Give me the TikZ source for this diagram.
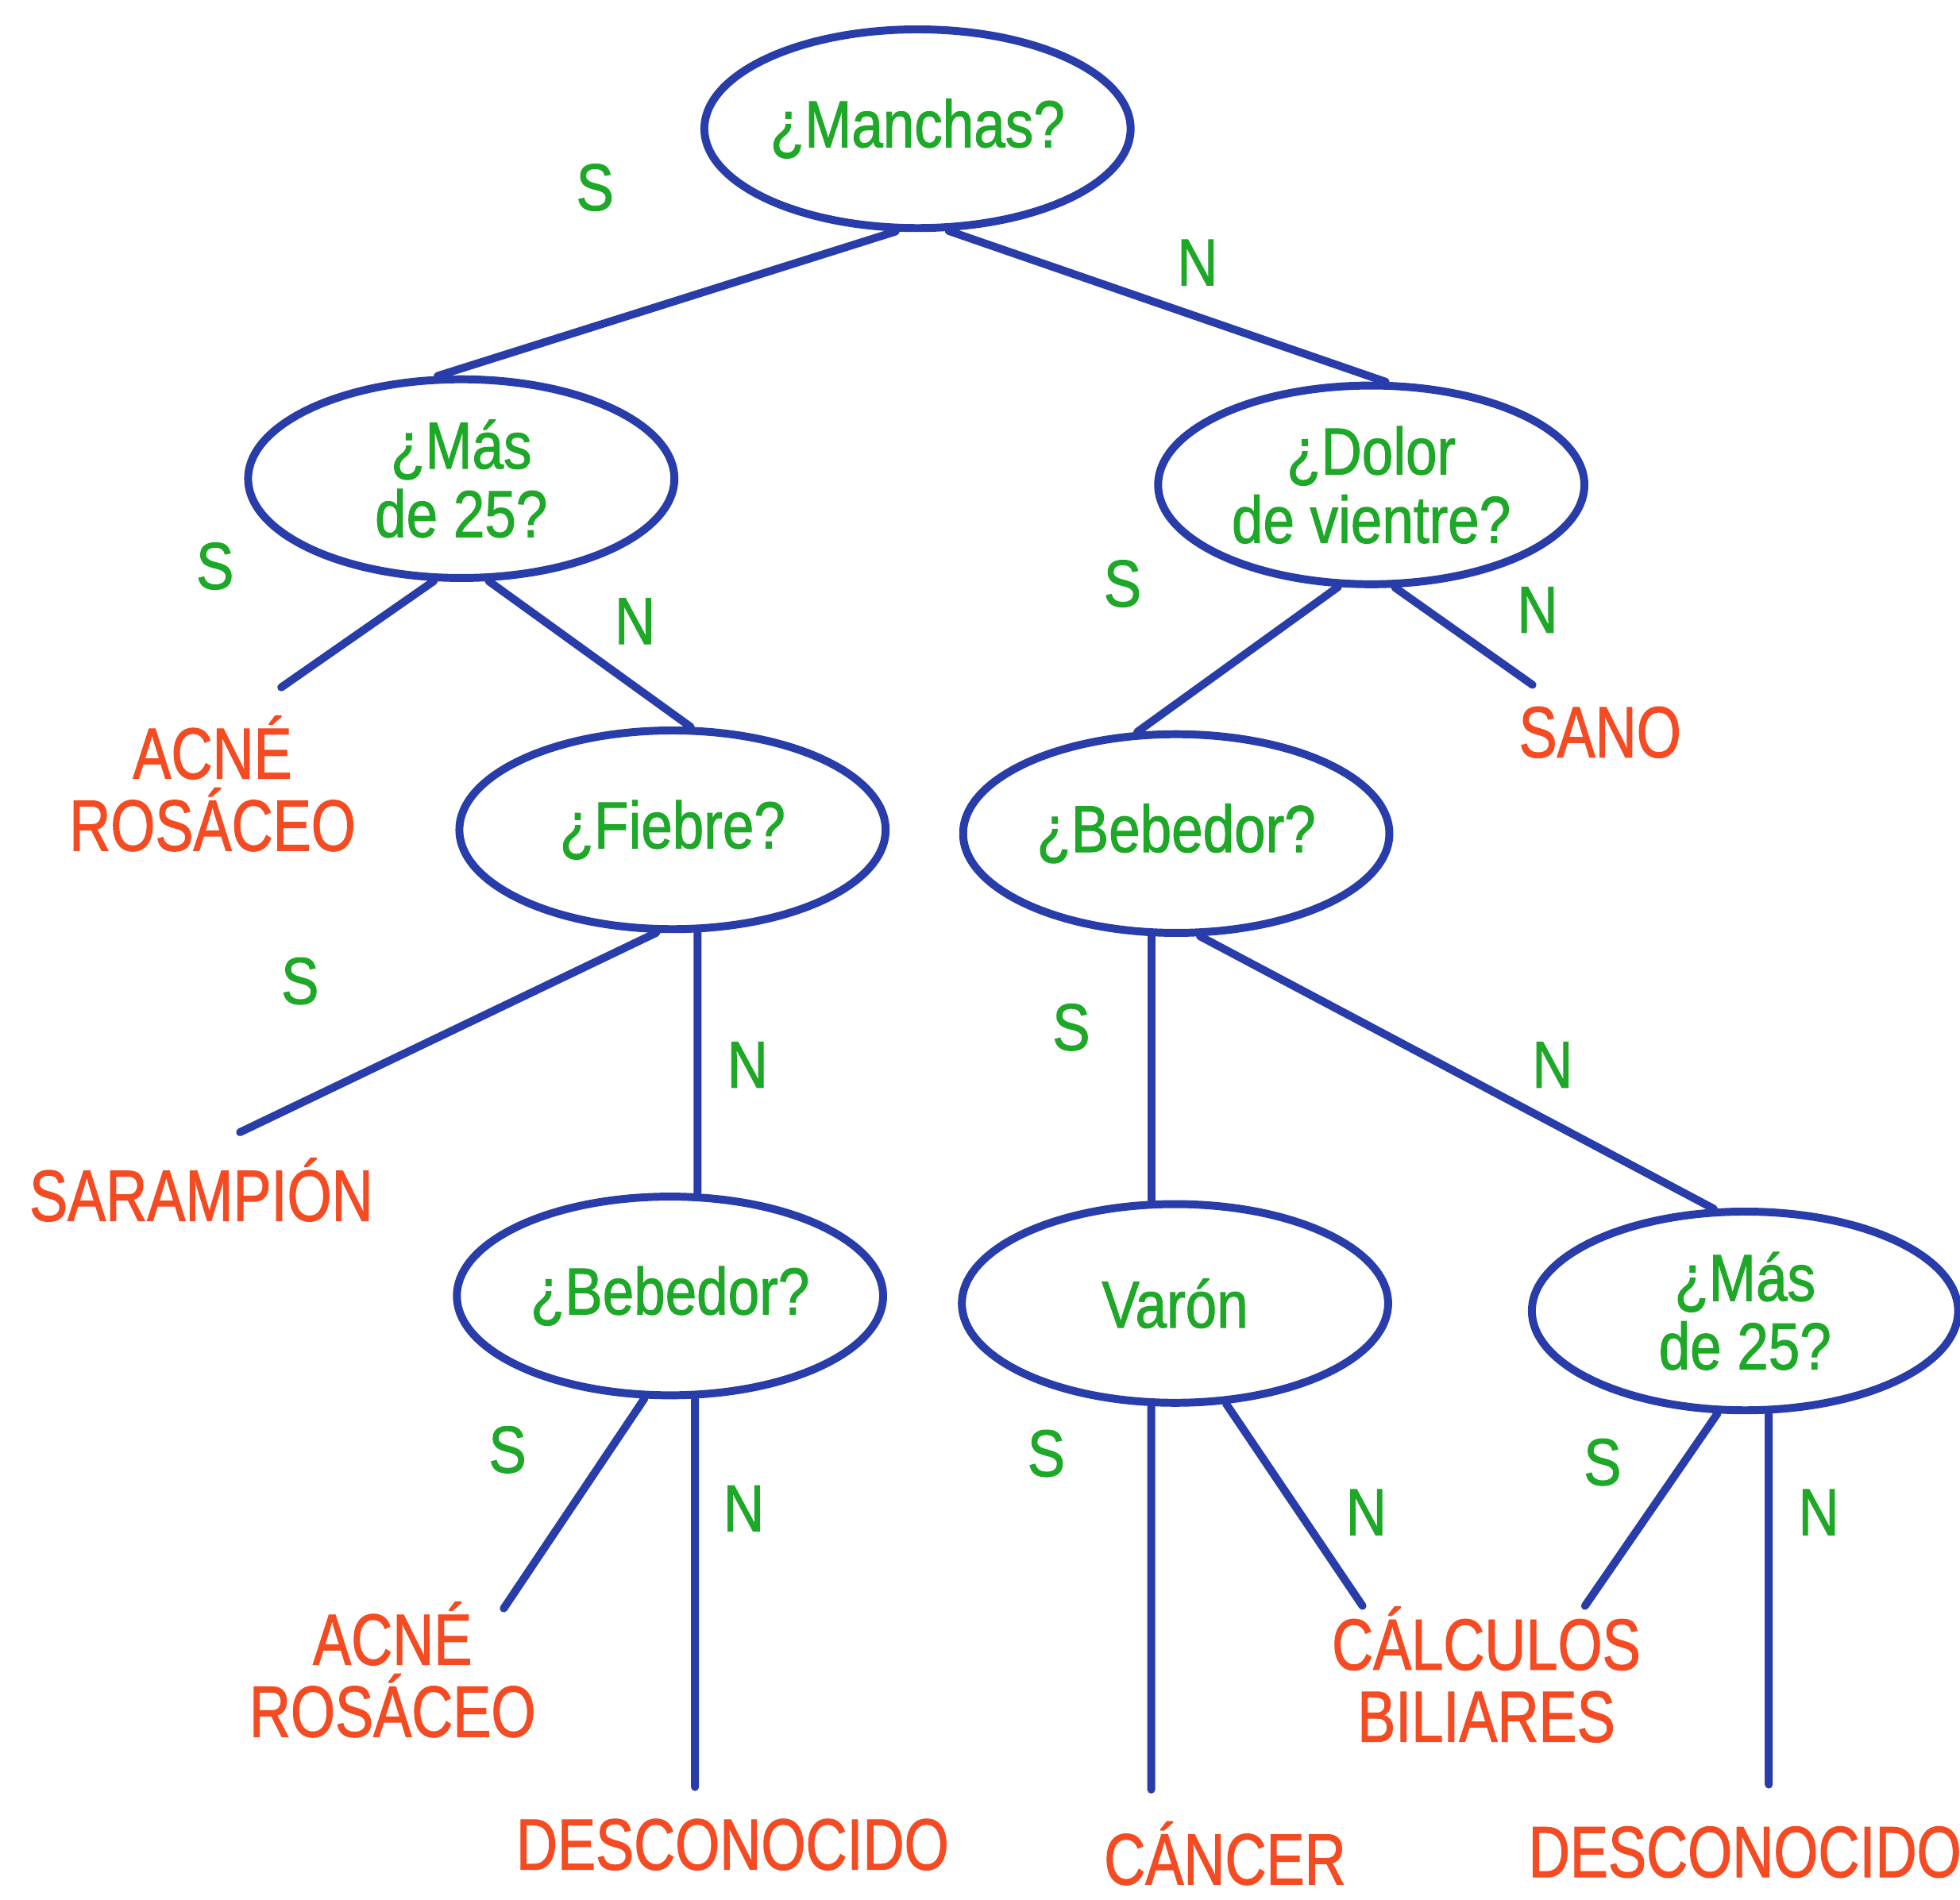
\documentclass[tikz,border=0pt]{standalone}
\usepackage{fontspec}
\usetikzlibrary{shapes.geometric}
\newfontfamily\gfont{Liberation Sans}[FakeStretch=0.85,FakeBold=1.2]
\newfontfamily\rfont{Liberation Sans}[FakeStretch=0.79,FakeBold=1.2]
\definecolor{lineblue}{RGB}{40,60,170}
\definecolor{qgreen}{RGB}{30,168,40}
\definecolor{lred}{RGB}{245,75,35}
\tikzset{
  qnode/.style={ellipse, draw=lineblue, line width=1.8pt, minimum width=34.1mm,
    minimum height=15.9mm, inner sep=0pt, text=qgreen, align=center,
    font=\gfont\fontsize{15.1}{15.6}\selectfont},
  leaf/.style={text=lred, align=center, inner sep=0pt,
    font=\rfont\fontsize{16.5}{16.4}\selectfont},
  yn/.style={text=qgreen, inner sep=0pt, font=\gfont\fontsize{15.1}{15.6}\selectfont},
  conn/.style={draw=lineblue, line width=1.8pt, line cap=round}
}
\begin{document}
\begin{tikzpicture}[x=0.1mm,y=-0.1mm]
\useasboundingbox (0,0) rectangle (1568,1520);
% question nodes
\node[qnode] (root)   at (734,103)  {¿Manchas?};
\node[qnode] (mas1)   at (369,383)  {¿Más\\de 25?};
\node[qnode] (dolor)  at (1097,388) {¿Dolor\\de vientre?};
\node[qnode] (fiebre) at (538,664)  {¿Fiebre?};
\node[qnode] (beb1)   at (941,667)  {¿Bebedor?};
\node[qnode] (beb2)   at (536,1037) {¿Bebedor?};
\node[qnode] (varon)  at (940,1043) {Varón};
\node[qnode] (mas2)   at (1396,1049) {¿Más\\de 25?};
% leaves
\node[leaf] (acne1)  at (170,627)  {ACNÉ\\ROSÁCEO};
\node[leaf] (sano)   at (1280,586) {SANO};
\node[leaf] (saramp) at (161,952)  {SARAMPIÓN};
\node[leaf] (acne2)  at (314,1336) {ACNÉ\\ROSÁCEO};
\node[leaf] (desc1)  at (586,1476) {DESCONOCIDO};
\node[leaf] (cancer) at (980,1483) {CÁNCER};
\node[leaf] (calc)   at (1189,1340) {CÁLCULOS\\BILIARES};
\node[leaf] (desc2)  at (1396,1482) {DESCONOCIDO};
% free ends of connectors
\coordinate (eacne1)  at (225,550);
\coordinate (esano)   at (1226,548);
\coordinate (esaramp) at (192,906);
\coordinate (eacne2)  at (403,1287);
\coordinate (edesc1)  at (556,1430);
\coordinate (ecancer) at (921,1432);
\coordinate (ecalcL)  at (1090,1285);
\coordinate (ecalcR)  at (1268,1285);
\coordinate (edesc2)  at (1415,1428);
% connectors
\draw[conn] (root.258) -- (mas1.103);
\draw[conn] (root.287) -- (dolor.82);
\draw[conn] (mas1.255) -- (eacne1);
\draw[conn] (mas1.285) -- (fiebre.80);
\draw[conn] (dolor.252) -- (beb1.111);
\draw[conn] (dolor.283) -- (esano);
\draw[conn] (fiebre.261) -- (esaramp);
\draw[conn] ([xshift=2mm]fiebre.south) -- ([xshift=2.2mm]beb2.north);
\draw[conn] ([xshift=-2mm]beb1.south) -- ([xshift=-1.9mm]varon.north);
\draw[conn] (beb1.283) -- (mas2.107);
\draw[conn] (beb2.256) -- (eacne2);
\draw[conn] ([xshift=2mm]beb2.south) -- (edesc1);
\draw[conn] ([xshift=-1.9mm]varon.south) -- (ecancer);
\draw[conn] (varon.297) -- (ecalcL);
\draw[conn] (mas2.255) -- (ecalcR);
\draw[conn] ([xshift=1.9mm]mas2.south) -- (edesc2);
% S / N labels
\node[yn] (s1) at (476,150) {S};
\node[yn] (n1) at (958,210) {N};
\node[yn] (s2) at (172,453) {S};
\node[yn] (n2) at (508,497) {N};
\node[yn] (s3) at (898,467) {S};
\node[yn] (n3) at (1230,488) {N};
\node[yn] (s4) at (240,785) {S};
\node[yn] (n4) at (598,852) {N};
\node[yn] (s5) at (857,822) {S};
\node[yn] (n5) at (1242,852) {N};
\node[yn] (s6) at (406,1160) {S};
\node[yn] (n6) at (595,1207) {N};
\node[yn] (s7) at (837,1163) {S};
\node[yn] (n7) at (1093,1210) {N};
\node[yn] (s8) at (1282,1170) {S};
\node[yn] (n8) at (1455,1210) {N};
\end{tikzpicture}
\end{document}
